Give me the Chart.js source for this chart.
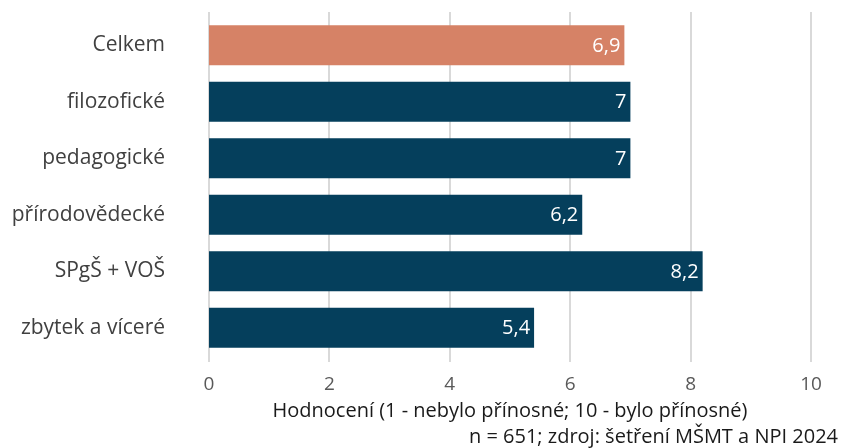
<!DOCTYPE html>
<html><head><meta charset="utf-8">
<script src="https://cdn.jsdelivr.net/npm/chart.js@4/dist/chart.umd.min.js"></script>
<style>html,body{margin:0;padding:0;background:#fff}#wrap{width:841px;height:448px}</style>
</head><body><div id="wrap"><canvas id="c" width="841" height="448"></canvas></div>
<script>
const categories = ["Celkem","filozofické","pedagogické","přírodovědecké","SPgŠ + VOŠ","zbytek a víceré"];
const values = [6.9, 7, 7, 6.2, 8.2, 5.4];
const barColors = ["#D68266","#053F5C","#053F5C","#053F5C","#053F5C","#053F5C"];
const xTicks = [0,2,4,6,8,10];
const axisTitle = "Hodnocení (1 - nebylo přínosné; 10 - bylo přínosné)";
const caption = "n = 651; zdroj: šetření MŠMT a NPI 2024";
const FONT = "'Open Sans', sans-serif";

const gridPlugin = {
  id:'gridExt',
  beforeDatasetsDraw(chart){
    const {ctx, chartArea, scales} = chart;
    ctx.save();
    ctx.strokeStyle = '#D9D9D9';
    ctx.lineWidth = 2;
    xTicks.forEach(v=>{
      const x = Math.round(scales.x.getPixelForValue(v));
      ctx.beginPath();
      ctx.moveTo(x, chartArea.top - 5);
      ctx.lineTo(x, chartArea.bottom + 6);
      ctx.stroke();
    });
    ctx.restore();
  }
};
const labelPlugin = {
  id:'valLabels',
  afterDatasetsDraw(chart){
    const {ctx} = chart;
    const meta = chart.getDatasetMeta(0);
    ctx.save();
    ctx.fillStyle = '#FFFFFF';
    ctx.font = "20px " + FONT;
    ctx.textAlign = 'right';
    ctx.textBaseline = 'middle';
    meta.data.forEach((bar,i)=>{
      ctx.fillText(String(values[i]).replace('.', ','), bar.x - 4, bar.y + 1);
    });
    ctx.restore();
  },
  afterDraw(chart){
    const {ctx} = chart;
    ctx.save();
    ctx.fillStyle = '#1A1A1A';
    ctx.font = "20px " + FONT;
    ctx.textAlign = 'right';
    ctx.textBaseline = 'middle';
    ctx.fillText(caption, 838, 437);
    ctx.restore();
  }
};

new Chart(document.getElementById('c'), {
  type:'bar',
  data:{ labels:categories, datasets:[{ data:values, backgroundColor:barColors, borderWidth:0, categoryPercentage:1, barPercentage:0.708 }]},
  options:{
    indexAxis:'y', responsive:false, animation:false, devicePixelRatio:1,
    layout:{ padding:{ top:17, right:30, left:0, bottom:0 } },
    plugins:{ legend:{display:false}, tooltip:{enabled:false} },
    scales:{
      x:{ min:0, max:10, afterBuildTicks(s){ s.ticks = xTicks.map(v=>({value:v})); },
        grid:{ display:false, drawTicks:false }, border:{display:false},
        ticks:{ color:'#595959', font:{family:FONT, size:19}, padding:17 },
        title:{ display:true, text:axisTitle, color:'#1A1A1A', font:{family:FONT, size:20}, padding:{top:0,bottom:25} },
        afterFit(s){ s.height = 92; s.paddingLeft = 0; s.paddingRight = 0; } },
      y:{ grid:{display:false, drawTicks:false}, border:{display:false},
        ticks:{ color:'#404040', font:{family:FONT, size:21}, padding:44 },
        afterFit(s){ s.width = 209; s.paddingTop = 0; s.paddingBottom = 0; } }
    }
  },
  plugins:[gridPlugin, labelPlugin]
});
</script></body></html>
